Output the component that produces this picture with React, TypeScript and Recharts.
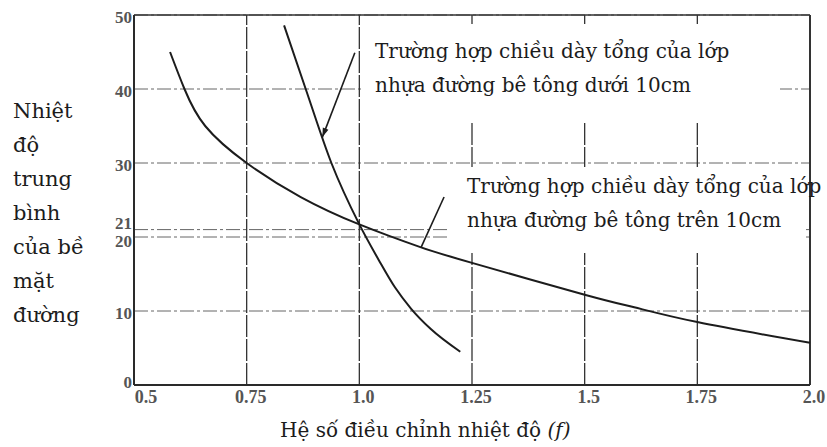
import React from 'react';
import {
  LineChart, Line, XAxis, YAxis, CartesianGrid, ReferenceLine,
} from 'recharts';

// axis ticks
const xTicks = [0.5, 0.75, 1.0, 1.25, 1.5, 1.75, 2.0];
const xTickLabels = ['0.5', '0.75', '1.0', '1.25', '1.5', '1.75', '2.0'];
const yTicks = [0, 10, 20, 21, 30, 40, 50];

// asphalt concrete layers thicker than 10cm (the flatter curve)
const thickX = [0.58, 0.612, 0.658, 0.75, 0.87, 1.0, 1.137, 1.25, 1.5, 1.61, 1.75, 2.0];
const thickY = [45, 40, 35, 30, 25.4, 21.7, 18.6, 16.5, 12.2, 10.5, 8.5, 5.7];

// asphalt concrete layers thinner than 10cm (the steep curve)
const thinX = [0.833, 0.881, 0.938, 1.0, 1.043, 1.079, 1.115, 1.158, 1.224];
const thinY = [48.6, 40, 30, 21.7, 16.9, 13.2, 10.3, 7.6, 4.5];

const yLabelLines = ['Nhiệt', 'độ', 'trung', 'bình', 'của bề', 'mặt', 'đường'];
const noteThin = ['Trường hợp chiều dày tổng của lớp', 'nhựa đường bê tông dưới 10cm'];
const noteThick = ['Trường hợp chiều dày tổng của lớp', 'nhựa đường bê tông trên 10cm'];
const xTitle = 'Hệ số điều chỉnh nhiệt độ ';

const thickData = thickX.map((x, i) => ({ x, y: thickY[i] }));
const thinData = thinX.map((x, i) => ({ x, y: thinY[i] }));

const serif = '"DejaVu Serif", serif';
const tickFont = '"Liberation Serif", serif';
const ink = '#1c1c1c';

function ArrowLine(props: any) {
  const { x1, y1, x2, y2 } = props;
  const a = Math.atan2(y2 - y1, x2 - x1);
  const bx = x2 - 9 * Math.cos(a);
  const by = y2 - 9 * Math.sin(a);
  const px = -Math.sin(a) * 3;
  const py = Math.cos(a) * 3;
  return (
    <g>
      <line x1={x1} y1={y1} x2={x2} y2={y2} stroke={ink} strokeWidth={1.6} />
      <polygon points={`${x2},${y2} ${bx + px},${by + py} ${bx - px},${by - py}`} fill={ink} />
    </g>
  );
}

function XTick({ x, y, payload, index }: any) {
  // labels sit a little to the right of their grid line
  const dx = index === 0 ? 12 : 4;
  return (
    <text x={x + dx} y={y} dy="0.71em" textAnchor="middle"
      fontFamily={tickFont} fontWeight="bold" fontSize={18} fill="#555">
      {xTickLabels[index] ?? payload.value}
    </text>
  );
}

function YTick({ x, y, payload }: any) {
  // 20 and 21 sit close together, so nudge them apart like the original
  const v = payload.value;
  const shift = v === 21 ? -7 : v === 20 ? 4 : v === 0 ? -3 : 2;
  return (
    <text x={x} y={y + shift} dy="0.355em" textAnchor="end"
      fontFamily={tickFont} fontWeight="bold" fontSize={17} fill="#555">
      {v}
    </text>
  );
}

export default function App() {
  return (
    <div style={{ position: 'absolute', left: 0, top: 0, width: 827, height: 447, background: '#fff' }}>
      <div style={{ position: 'absolute', left: 0, top: 0 }}>
        <LineChart width={827} height={447} margin={{ top: 15, right: 17, bottom: 30, left: 94 }}>
          <CartesianGrid vertical={false} stroke="#666" strokeDasharray="14 3 3 3" />
          <XAxis
            type="number"
            dataKey="x"
            domain={[0.5, 2]}
            ticks={xTicks}
            interval={0}
            tick={<XTick />}
            tickLine={false}
            tickSize={0}
            tickMargin={5}
            height={32}
            axisLine={{ stroke: '#2a2a2a', strokeWidth: 2 }}
          />
          <YAxis
            type="number"
            dataKey="y"
            domain={[0, 50]}
            ticks={yTicks}
            interval={0}
            tick={<YTick />}
            tickLine={false}
            tickSize={0}
            tickMargin={2}
            width={40}
            axisLine={{ stroke: '#2a2a2a', strokeWidth: 2 }}
          />
          {xTicks.slice(1, -1).map((v) => (
            <ReferenceLine key={v} x={v} stroke="#333" strokeWidth={1.3} strokeDasharray="22 2" />
          ))}
          <ReferenceLine y={50} stroke="#333" strokeWidth={1.5} />
          <ReferenceLine x={2} stroke="#333" strokeWidth={2} />
          <ReferenceLine
            segment={[{ x: 0.99, y: 44.9 }, { x: 0.918, y: 33.5 }]}
            shape={<ArrowLine />}
          />
          <ReferenceLine
            segment={[{ x: 1.188, y: 25.4 }, { x: 1.137, y: 18.6 }]}
            stroke={ink}
            strokeWidth={1.6}
          />
          <Line data={thickData} dataKey="y" type="natural" stroke={ink} strokeWidth={2}
            dot={false} isAnimationActive={false} />
          <Line data={thinData} dataKey="y" type="monotone" stroke={ink} strokeWidth={2}
            dot={false} isAnimationActive={false} />
        </LineChart>
      </div>
      <svg width={827} height={447} style={{ position: 'absolute', left: 0, top: 0, pointerEvents: 'none' }}>
        <rect x={362} y={24} width={418} height={97} fill="#fff" />
        <rect x={447} y={167} width={359} height={86} fill="#fff" />
        <g fontFamily={serif} fontSize={20} fill={ink}>
          {yLabelLines.map((t, i) => (
            <text key={t} x={13} y={118 + i * 34} fontSize={21}>{t}</text>
          ))}
          {noteThin.map((t, i) => (
            <text key={t} x={375} y={58 + i * 34}>{t}</text>
          ))}
          {noteThick.map((t, i) => (
            <text key={t} x={467} y={193 + i * 34}>{t}</text>
          ))}
          <text x={280} y={437}>
            {xTitle}
            <tspan fontStyle="italic">(f)</tspan>
          </text>
        </g>
      </svg>
    </div>
  );
}
